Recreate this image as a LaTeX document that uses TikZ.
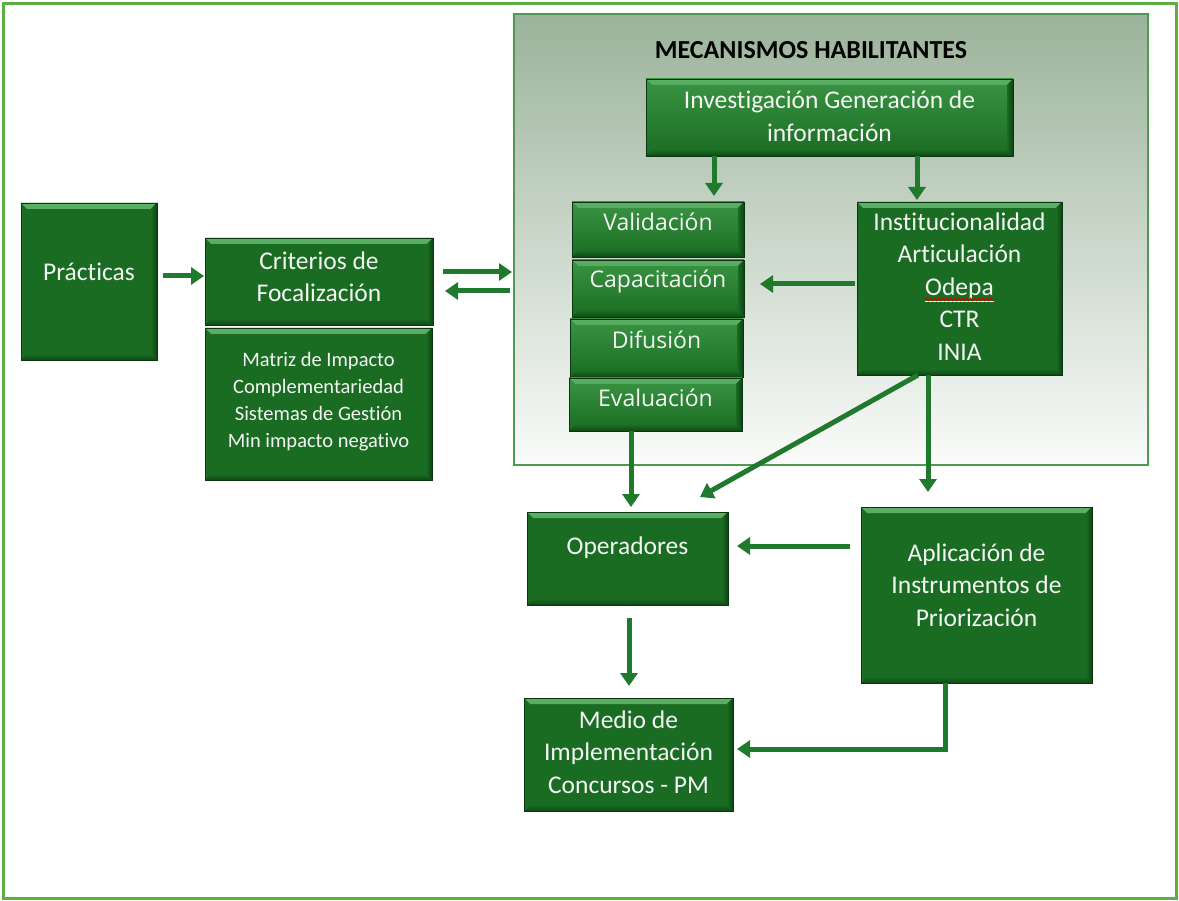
\documentclass[tikz,border=0pt]{standalone}
\usepackage{fontspec}
\setmainfont{Carlito}[Ligatures=NoCommon]
\newfontfamily\stackfont{Open Sans}[Ligatures=NoCommon]
\usetikzlibrary{arrows.meta,decorations.pathmorphing}
\definecolor{gmain}{HTML}{1A6C22}
\definecolor{glight}{HTML}{5BB065}
\definecolor{gdark}{HTML}{0D4213}
\definecolor{gtop}{HTML}{3A9443}
\definecolor{acol}{HTML}{1F7A2D}
\definecolor{framecol}{HTML}{5CB043}
\definecolor{panelborder}{HTML}{4E9A50}
\definecolor{paneltop}{HTML}{9BB39A}
\definecolor{panelbot}{HTML}{FAFBFA}
\definecolor{txtcol}{HTML}{F4F6F4}
\tikzset{
  bevel/.style={path picture={
    \fill[top color=glight, bottom color=gmain!90!glight]
      (path picture bounding box.north west) -- (path picture bounding box.north east)
      -- ([shift={(-6pt,-6pt)}]path picture bounding box.north east)
      -- ([shift={(6pt,-6pt)}]path picture bounding box.north west) -- cycle;
    \fill[left color=gmain, right color=gdark]
      (path picture bounding box.north east) -- (path picture bounding box.south east)
      -- ([shift={(-6pt,6pt)}]path picture bounding box.south east)
      -- ([shift={(-6pt,-6pt)}]path picture bounding box.north east) -- cycle;
    \fill[top color=gmain, bottom color=gdark!85!gmain]
      (path picture bounding box.south west) -- (path picture bounding box.south east)
      -- ([shift={(-6pt,6pt)}]path picture bounding box.south east)
      -- ([shift={(6pt,6pt)}]path picture bounding box.south west) -- cycle;
  }},
  gbox/.style={rectangle, fill=gmain, draw=gdark!80!black, line width=0.6pt,
    inner sep=0pt, outer sep=0pt, bevel},
  gradbox/.style={gbox, top color=gtop, bottom color=gmain},
  txt/.style={text=txtcol, align=center, inner sep=0pt,
    font=\fontsize{25.5}{32.5}\selectfont},
  listtxt/.style={text=txtcol, align=center, inner sep=0pt,
    font=\fontsize{20.5}{27}\selectfont},
  stacktxt/.style={text=txtcol, align=center, inner sep=0pt,
    font=\stackfont\fontsize{23}{27}\selectfont},
  arr/.style={draw=acol, line width=5pt, -{Triangle[length=13pt,width=17pt]}},
}
\begin{document}
\begin{tikzpicture}[x=1pt,y=-1pt]
\useasboundingbox (0,0) rectangle (1179,901);
\fill[white] (0,0) rectangle (1179,901);
\draw[framecol, line width=3pt] (3.5,3.5) rectangle (1176,898);

% enabling mechanisms panel
\node[rectangle, draw=panelborder, line width=1.2pt, top color=paneltop, bottom color=panelbot,
  minimum width=634pt, minimum height=451pt, inner sep=0pt, outer sep=0pt] (panel) at (831,239.5) {};
\node[font=\bfseries\fontsize{26}{30}\selectfont, text=black, inner sep=0pt] (title) at (811,50) {MECANISMOS HABILITANTES};

% boxes
\node[gbox, minimum width=136pt, minimum height=157pt] (prac) at (89,281.5) {};
\node[txt] (practxt) at ([yshift=10pt]prac.center) {Prácticas};

\node[gbox, minimum width=228pt, minimum height=87pt] (crit) at (319,281.5) {};
\node[txt] (crittxt) at ([yshift=5pt]crit.center) {Criterios de\\Focalización};

\node[gbox, minimum width=227pt, minimum height=152pt] (critlist) at (318.5,404) {};
\node[listtxt] (critlisttxt) at ([yshift=2pt]critlist.center) {Matriz de Impacto\\Complementariedad\\Sistemas de Gestión\\Min impacto negativo};

\node[gradbox, minimum width=367pt, minimum height=77pt] (inv) at (829.5,117.5) {};
\node[txt] (invtxt) at ([yshift=1.5pt]inv.center) {Investigación Generación de\\información};

\node[gradbox, minimum width=172pt, minimum height=55pt] (val) at (658,229.5) {};
\node[stacktxt] (valtxt) at ([yshift=7.5pt]val.center) {Validación};
\node[gradbox, minimum width=172pt, minimum height=57pt] (cap) at (658,288.5) {};
\node[stacktxt] (captxt) at ([yshift=7.5pt]cap.center) {Capacitación};
\node[gradbox, minimum width=173pt, minimum height=58pt] (dif) at (656.5,348) {};
\node[stacktxt] (diftxt) at ([yshift=8pt]dif.center) {Difusión};
\node[gradbox, minimum width=173pt, minimum height=53pt] (eva) at (655.5,404.5) {};
\node[stacktxt] (evatxt) at ([yshift=6.5pt]eva.center) {Evaluación};

\node[gbox, minimum width=205pt, minimum height=173pt] (inst) at (959.5,288.5) {};
\node[txt] (insttxt) at ([yshift=2pt]inst.center) {Institucionalidad\\Articulación\\\underline{Odepa}\\CTR\\INIA};
\draw[red!85!black, line width=0.9pt, decorate, decoration={snake, amplitude=1.3pt, segment length=4pt}]
  ([xshift=-34pt,yshift=-11pt]inst.center) -- ([xshift=36pt,yshift=-11pt]inst.center);

\node[gbox, minimum width=201pt, minimum height=93pt] (oper) at (627.5,558.5) {};
\node[txt] (opertxt) at ([yshift=10.5pt]oper.center) {Operadores};

\node[gbox, minimum width=231pt, minimum height=176pt] (apl) at (976.5,595) {};
\node[txt] (apltxt) at ([yshift=10pt]apl.center) {Aplicación de\\Instrumentos de\\Priorización};

\node[gbox, minimum width=209pt, minimum height=113pt] (med) at (628.5,754.5) {};
\node[txt] (medtxt) at ([yshift=2.5pt]med.center) {Medio de\\Implementación\\Concursos - PM};

% connectors
\draw[arr, shorten <=6pt, shorten >=1pt] ([yshift=5.5pt]prac.east) -- ([yshift=5.5pt]prac.east -| crit.west);
\draw[arr, shorten <=10pt, shorten >=2pt] ([yshift=9.5pt]crit.east) -- ([yshift=9.5pt]crit.east -| panel.west);
\draw[arr, shorten <=4pt, shorten >=12pt] ([yshift=-9.5pt]crit.east -| panel.west) -- ([yshift=-9.5pt]crit.east);

\draw[arr, shorten >=6pt] ([xshift=-115.5pt]inv.south) -- ([xshift=-115.5pt]inv.south |- val.north);
\draw[arr, shorten >=2pt] ([xshift=87.5pt]inv.south) -- ([xshift=87.5pt]inv.south |- inst.north);
\draw[arr, shorten <=2pt, shorten >=16pt] ([yshift=4.5pt]inst.west) -- ([yshift=4.5pt]inst.west -| cap.east);

\draw[arr, shorten >=5pt] ([xshift=-24.5pt]eva.south) -- ([xshift=-24.5pt]eva.south |- oper.north);
\draw[arr] ([xshift=-41.5pt]inst.south) -- ([xshift=-28pt,yshift=15pt]oper.north east);
\draw[arr, shorten >=15pt] ([xshift=-31.5pt]inst.south) -- ([xshift=-31.5pt]inst.south |- apl.north);

\draw[arr, shorten <=11pt, shorten >=9pt] ([yshift=12.5pt]apl.west |- oper.east) -- ([yshift=12.5pt]oper.east);
\draw[arr, shorten <=13pt, shorten >=12pt] ([xshift=1.5pt]oper.south) -- ([xshift=1.5pt]oper.south |- med.north);
\draw[arr, shorten >=4pt] ([xshift=-31.5pt]apl.south) |- ([yshift=5.5pt]med.east);
\end{tikzpicture}
\end{document}
